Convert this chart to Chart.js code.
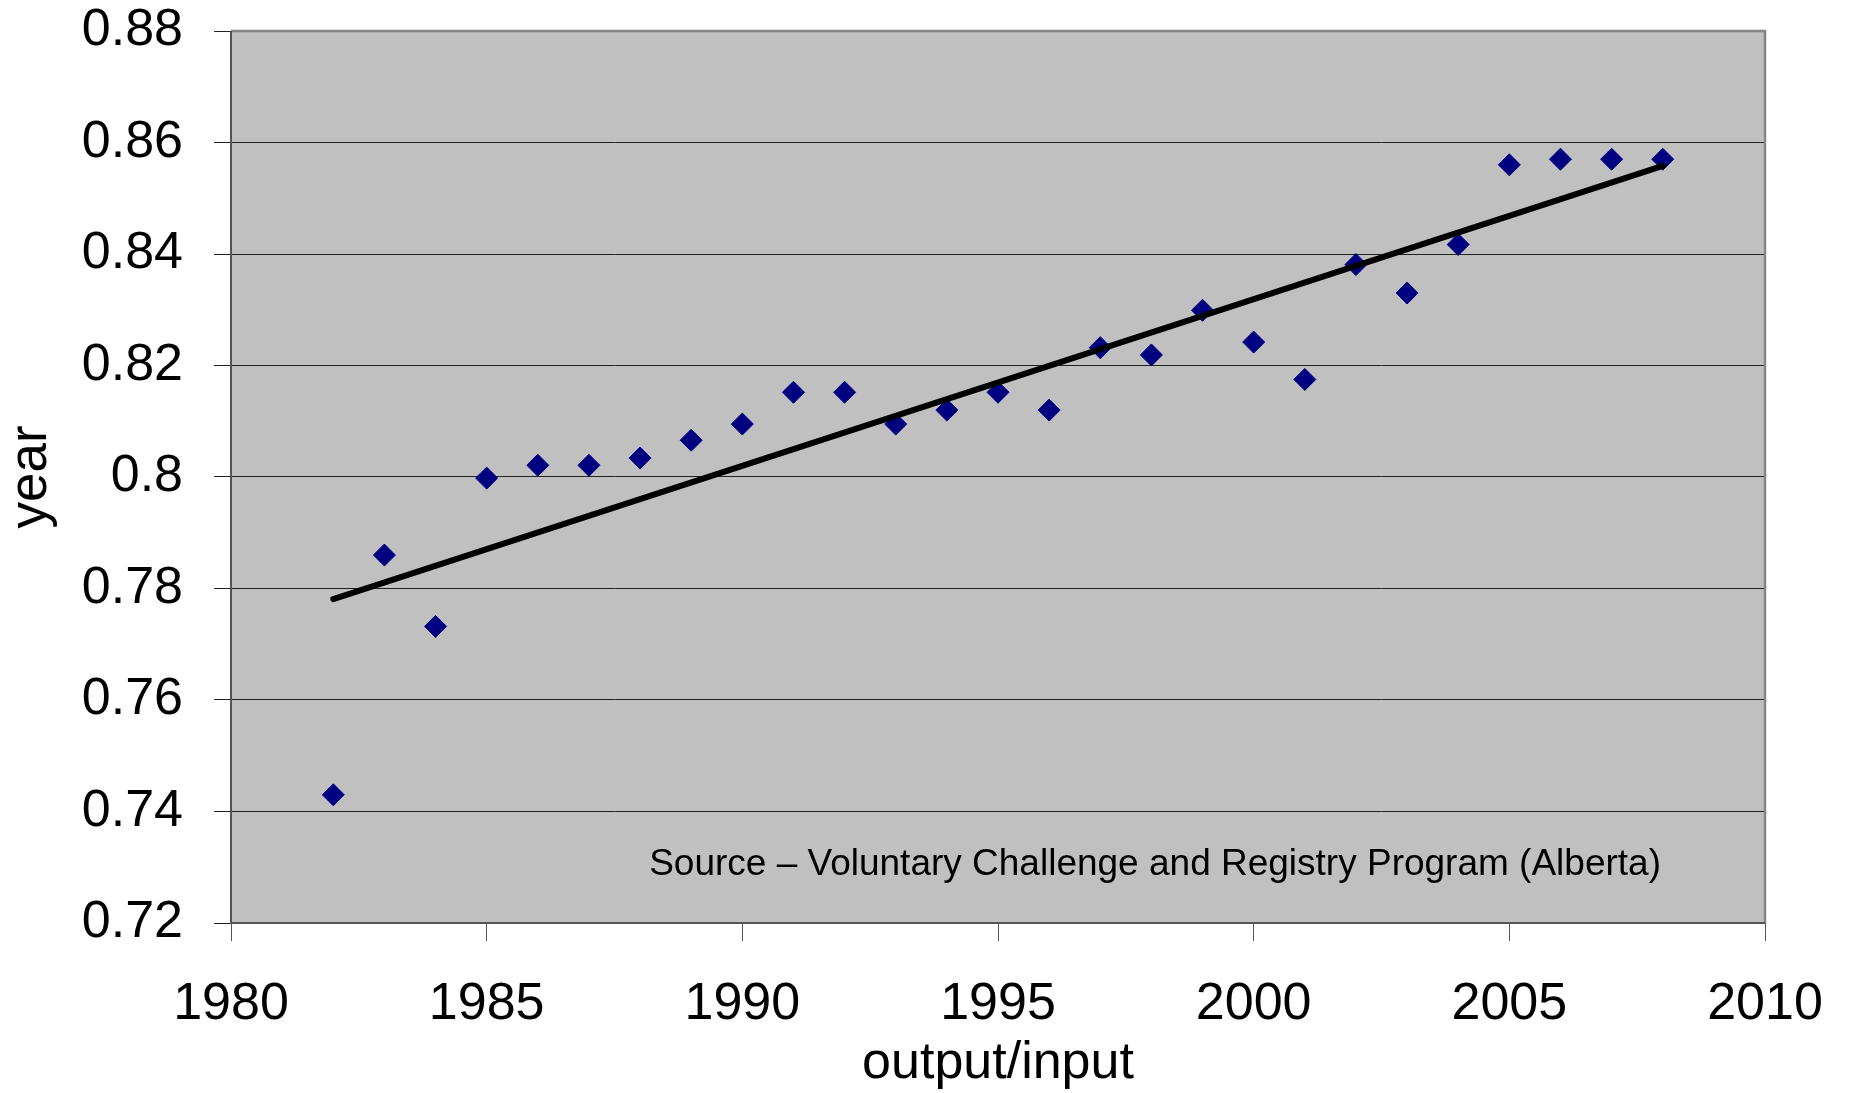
<!DOCTYPE html>
<html>
<head>
<meta charset="utf-8">
<script src="https://cdn.jsdelivr.net/npm/chart.js@4/dist/chart.umd.min.js"></script>
<style>
html,body{margin:0;padding:0;background:#fff;}
#wrap{width:1851px;height:1093px;}
</style>
</head>
<body>
<div id="wrap"><canvas id="c" width="1851" height="1093"></canvas></div>
<script>
const years = [1982,1983,1984,1985,1986,1987,1988,1989,1990,1991,1992,1993,1994,1995,1996,1997,1998,1999,2000,2001,2002,2003,2004,2005,2006,2007,2008];
const ratios = [0.743,0.786,0.7732,0.7998,0.8021,0.8021,0.8034,0.8066,0.8095,0.8152,0.8152,0.8095,0.812,0.8152,0.812,0.8232,0.8219,0.8299,0.8242,0.8175,0.8381,0.833,0.8417,0.856,0.857,0.857,0.857];
const trendYears = [1982, 2008];
const trendValues = [0.7781, 0.8558];
const yTickValues = [0.72,0.74,0.76,0.78,0.8,0.82,0.84,0.86,0.88];
const yTickLabels = ['0.72','0.74','0.76','0.78','0.8','0.82','0.84','0.86','0.88'];
const xTickLabels = ['1980','1985','1990','1995','2000','2005','2010'];
const sourceText = 'Source \u2013 Voluntary Challenge and Registry Program (Alberta)';
const xTitle = 'output/input';
const yTitle = 'year';

const FONT = '"Liberation Sans", Arial, sans-serif';

const points = years.map((y, i) => ({x: y, y: ratios[i]}));
const trend = trendYears.map((y, i) => ({x: y, y: trendValues[i]}));

const plotBg = {
  id: 'plotBg',
  beforeDraw(chart) {
    const {ctx, chartArea: a} = chart;
    ctx.save();
    ctx.fillStyle = '#c0c0c0';
    ctx.fillRect(a.left, a.top, a.right - a.left, a.bottom - a.top);
    ctx.restore();
  },
  afterDatasetsDraw(chart) {
    const {ctx, chartArea: a} = chart;
    ctx.save();
    ctx.strokeStyle = '#858585';
    ctx.lineWidth = 2.5;
    ctx.beginPath();
    ctx.moveTo(a.left, a.top);
    ctx.lineTo(a.right, a.top);
    ctx.lineTo(a.right, a.bottom);
    ctx.stroke();
    ctx.strokeStyle = '#555';
    ctx.lineWidth = 2;
    ctx.beginPath();
    ctx.moveTo(a.left, a.top);
    ctx.lineTo(a.left, a.bottom);
    ctx.lineTo(a.right, a.bottom);
    ctx.stroke();
    ctx.fillStyle = '#000';
    ctx.font = '37px ' + FONT;
    ctx.textAlign = 'right';
    ctx.textBaseline = 'alphabetic';
    ctx.fillText(sourceText, a.right - 104, a.bottom - 48);
    ctx.restore();
  }
};

new Chart(document.getElementById('c'), {
  type: 'scatter',
  data: {
    datasets: [
      {
        data: points,
        order: 2,
        pointStyle: 'rectRot',
        pointRadius: 11,
        pointHoverRadius: 11,
        backgroundColor: '#000080',
        borderColor: '#000080',
        borderWidth: 1
      },
      {
        data: trend,
        order: 1,
        showLine: true,
        borderColor: '#000',
        borderWidth: 6,
        borderCapStyle: 'round',
        pointRadius: 0,
        pointHoverRadius: 0,
        fill: false
      }
    ]
  },
  options: {
    responsive: false,
    animation: false,
    events: [],
    layout: {padding: {top: 31, right: 86, left: 0, bottom: 0}},
    plugins: {legend: {display: false}, tooltip: {enabled: false}},
    scales: {
      x: {
        type: 'linear',
        min: 1980, max: 2010,
        afterBuildTicks(scale) {
          scale.ticks = xTickLabels.map(v => ({value: Number(v)}));
        },
        afterFit(scale) {
          scale.height = 170;
          scale.paddingLeft = 0; scale.paddingRight = 0;
          scale.paddingTop = 0; scale.paddingBottom = 0;
        },
        ticks: {
          callback: (v) => String(v),
          font: {family: FONT, size: 52},
          color: '#000',
          padding: 32,
          maxRotation: 0
        },
        grid: {drawOnChartArea: false, drawTicks: true, tickLength: 18, color: '#555', lineWidth: 1},
        border: {display: false},
        title: {display: true, text: xTitle, font: {family: FONT, size: 52}, color: '#000', padding: {top: 0, bottom: -2}}
      },
      y: {
        type: 'linear',
        min: 0.72, max: 0.88,
        afterBuildTicks(scale) {
          scale.ticks = yTickValues.map(v => ({value: v}));
        },
        afterFit(scale) {
          scale.width = 231;
          scale.paddingLeft = 0; scale.paddingRight = 0;
          scale.paddingTop = 0; scale.paddingBottom = 0;
        },
        ticks: {
          callback: (v, i) => yTickLabels[i],
          font: {family: FONT, size: 52},
          color: '#000',
          padding: 31
        },
        grid: {drawOnChartArea: true, drawTicks: true, tickLength: 17, color: '#222', lineWidth: 1},
        border: {display: false},
        title: {display: true, text: yTitle, font: {family: FONT, size: 53}, color: '#000', padding: {top: 0, bottom: 0}}
      }
    }
  },
  plugins: [plotBg]
});
</script>
</body>
</html>
